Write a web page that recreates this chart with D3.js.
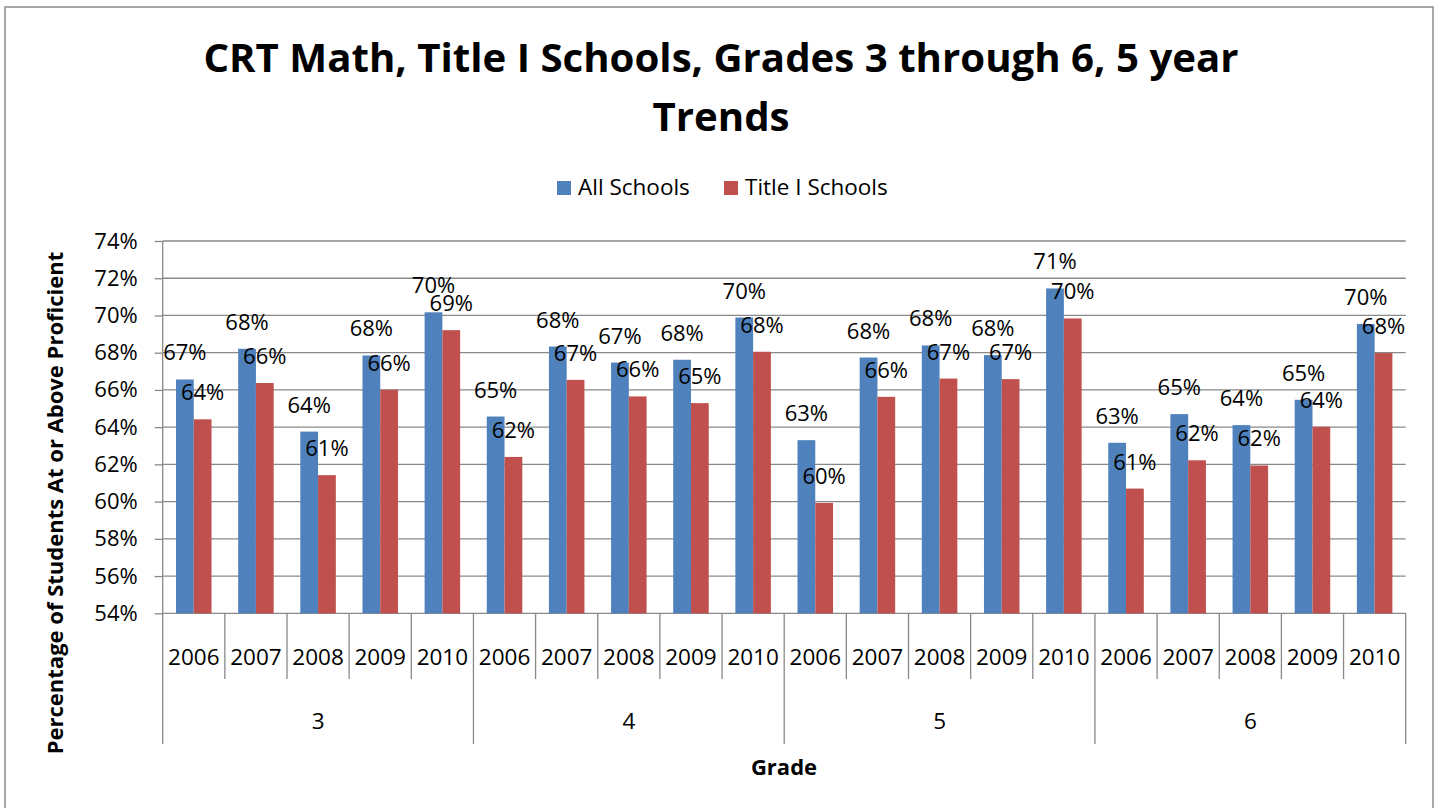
<!DOCTYPE html>
<html>
<head>
<meta charset="utf-8">
<script src="https://cdn.jsdelivr.net/npm/d3@7"></script>
<style>
  body { margin: 0; background: #fff; }
  svg { display: block; font-family: "Open Sans", sans-serif; }
</style>
</head>
<body>
<svg id="chart" width="1440" height="808"></svg>
<script>
var grades = ["3", "4", "5", "6"];
var years = ["2006", "2007", "2008", "2009", "2010"];
var seriesNames = ["All Schools", "Title I Schools"];
var colors = ["#4F81BD", "#C0504D"];
// percent proficient, grade 3 2006..2010, then grade 4, 5, 6
var allSchools = [66.56, 68.21, 63.76, 67.85, 70.17,
                  64.57, 68.33, 67.47, 67.62, 69.89,
                  63.30, 67.74, 68.39, 67.87, 71.45,
                  63.16, 64.70, 64.11, 65.47, 69.54];
var titleI = [64.42, 66.37, 61.42, 66.01, 69.21,
              62.40, 66.54, 65.65, 65.29, 68.05,
              59.93, 65.63, 66.61, 66.58, 69.84,
              60.70, 62.22, 61.94, 64.02, 67.98];
var yTicks = [54, 56, 58, 60, 62, 64, 66, 68, 70, 72, 74];

var svg = d3.select("#chart"),
    plotLeft = 162.7, plotRight = 1405.7, plotTop = 241, plotBottom = 613.3,
    gridColor = "#898989";

var cats = [];
grades.forEach(function(g) { years.forEach(function(yr) { cats.push({grade: g, year: yr, key: g + "-" + yr}); }); });
cats.forEach(function(c, i) { c.values = [allSchools[i], titleI[i]]; });

var x0 = d3.scaleBand().domain(cats.map(function(c) { return c.key; })).range([plotLeft, plotRight]);
var x1 = d3.scaleBand().domain([0, 1]).range([0, x0.bandwidth()]).paddingOuter(0.75);
var y = d3.scaleLinear().domain([54, 74]).range([plotBottom, plotTop]);

// chart border
svg.append("rect")
  .attr("x", 5).attr("y", 7).attr("width", 1428).attr("height", 830)
  .attr("fill", "none").attr("stroke", "#8a8a8a").attr("stroke-width", 1.5);

// title
var title = svg.append("text")
  .attr("text-anchor", "middle")
  .attr("font-weight", "bold")
  .attr("font-size", 40.2);
title.append("tspan").attr("x", 721).attr("y", 72).text("CRT Math, Title I Schools, Grades 3 through 6, 5 year");
title.append("tspan").attr("x", 721).attr("y", 131).text("Trends");

// legend
var legend = svg.selectAll(".legend").data(seriesNames).enter().append("g").attr("class", "legend")
  .attr("transform", function(d, i) { return "translate(" + [557, 724][i] + ",0)"; });
legend.append("rect").attr("x", 0).attr("y", 181).attr("width", 14).attr("height", 14)
  .attr("fill", function(d, i) { return colors[i]; });
legend.append("text").attr("x", 21).attr("y", 195).attr("font-size", 22.5).text(function(d) { return d; });

// y grid + axis
var yAxis = svg.append("g")
  .attr("transform", "translate(" + plotLeft + ",0)")
  .call(d3.axisLeft(y).tickValues(yTicks).tickSize(8).tickPadding(17)
    .tickFormat(function(d) { return d + "%"; }));
yAxis.select(".domain").remove();
yAxis.selectAll("line").attr("stroke", gridColor).attr("stroke-width", 1.3);
yAxis.selectAll("text").attr("font-size", 22).attr("fill", "#000").attr("font-family", "Open Sans");

svg.append("g").selectAll("line").data(yTicks).enter().append("line")
  .attr("x1", plotLeft).attr("x2", plotRight)
  .attr("y1", function(d) { return y(d); }).attr("y2", function(d) { return y(d); })
  .attr("stroke", gridColor).attr("stroke-width", 1.3);

// category boundaries
var bounds = d3.range(cats.length + 1);
svg.append("g").selectAll("line").data(bounds).enter().append("line")
  .attr("x1", function(i) { return plotLeft + i * x0.step(); })
  .attr("x2", function(i) { return plotLeft + i * x0.step(); })
  .attr("y1", function(i) { return i === 0 ? plotTop : plotBottom; })
  .attr("y2", function(i) { return i % years.length === 0 ? 744 : 679; })
  .attr("stroke", gridColor).attr("stroke-width", 1.3);

// bars
var cat = svg.append("g").selectAll("g").data(cats).enter().append("g")
  .attr("transform", function(d) { return "translate(" + x0(d.key) + ",0)"; });

cat.selectAll("rect").data(function(d) { return d.values; }).enter().append("rect")
  .attr("x", function(d, i) { return x1(i); })
  .attr("width", x1.bandwidth())
  .attr("y", function(d) { return y(d); })
  .attr("height", function(d) { return plotBottom - y(d); })
  .attr("fill", function(d, i) { return colors[i]; });

cat.selectAll(".lbl").data(function(d) { return d.values; }).enter().append("text")
  .attr("class", "lbl")
  .attr("text-anchor", "middle")
  .attr("font-size", 22)
  .attr("x", function(d, i) { return x1(i) + x1.bandwidth() / 2; })
  .attr("y", function(d) { return y(d) - 19; })
  .text(function(d) { return Math.round(d) + "%"; });

// year labels
svg.append("g").selectAll("text").data(cats).enter().append("text")
  .attr("text-anchor", "middle").attr("font-size", 22.5)
  .attr("x", function(d) { return x0(d.key) + x0.bandwidth() / 2; })
  .attr("y", 665)
  .text(function(d) { return d.year; });

// grade labels
svg.append("g").selectAll("text").data(grades).enter().append("text")
  .attr("text-anchor", "middle").attr("font-size", 22.5)
  .attr("x", function(d, i) { return plotLeft + (i + 0.5) * years.length * x0.step(); })
  .attr("y", 729)
  .text(function(d) { return d; });

// axis titles
svg.append("text")
  .attr("text-anchor", "middle").attr("font-size", 22).attr("font-weight", "bold")
  .attr("x", 784).attr("y", 775)
  .text("Grade");

svg.append("text")
  .attr("text-anchor", "middle").attr("font-size", 22).attr("font-weight", "bold")
  .attr("transform", "translate(63,503) rotate(-90)")
  .text("Percentage of Students At or Above Proficient");
</script>
</body>
</html>
